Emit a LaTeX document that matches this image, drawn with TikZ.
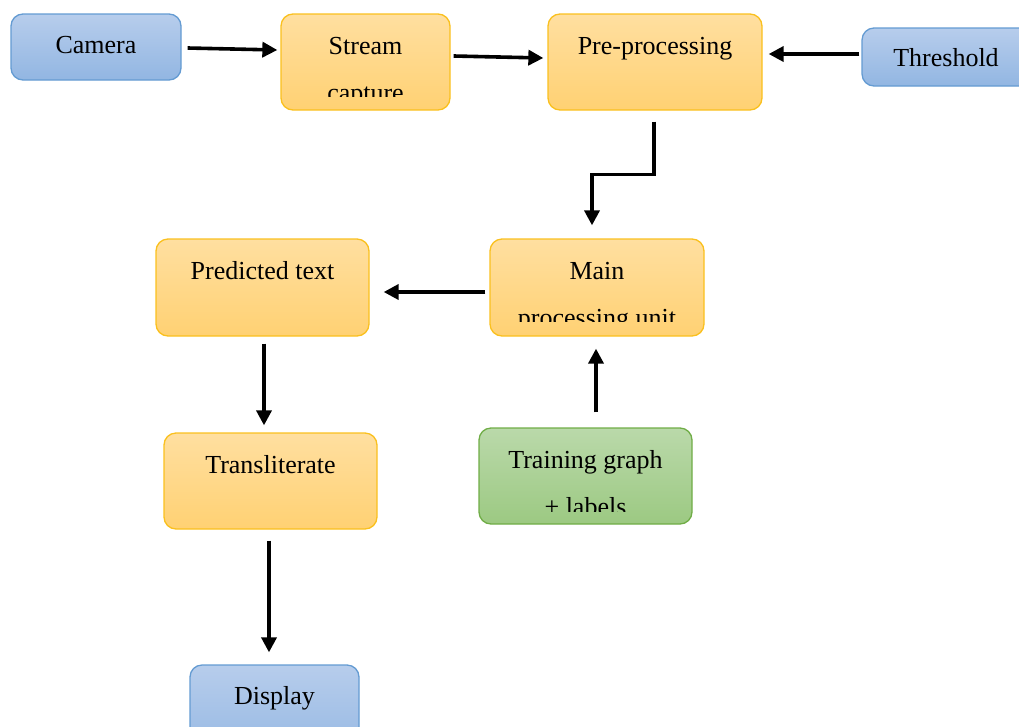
\documentclass[tikz,border=0pt]{standalone}
\usepackage{fontspec}
\setmainfont{Liberation Serif}
\usetikzlibrary{calc,arrows.meta}

\definecolor{blueTop}{RGB}{183,205,236}
\definecolor{blueBot}{RGB}{146,182,226}
\definecolor{blueLine}{RGB}{100,155,210}
\definecolor{orgTop}{RGB}{255,223,160}
\definecolor{orgBot}{RGB}{255,209,115}
\definecolor{orgLine}{RGB}{250,192,30}
\definecolor{grnTop}{RGB}{186,217,170}
\definecolor{grnBot}{RGB}{156,201,130}
\definecolor{grnLine}{RGB}{112,173,71}

\tikzset{
  box/.style={rectangle, rounded corners=12pt, line width=1.3pt, inner sep=0pt},
  bluebox/.style={box, draw=blueLine, top color=blueTop, bottom color=blueBot},
  orgbox/.style={box, draw=orgLine, top color=orgTop, bottom color=orgBot},
  grnbox/.style={box, draw=grnLine, top color=grnTop, bottom color=grnBot},
  lbl/.style={anchor=base, inner sep=0pt, font=\fontsize{26}{30}\selectfont},
  arr/.style={line width=3.6pt, -{Triangle[length=15pt,width=15pt]}},
}

\begin{document}
\begin{tikzpicture}[x=1pt,y=-1pt]
\useasboundingbox (0,0) rectangle (1019,726);
\clip (0,0) rectangle (1019,726);

% boxes
\node[bluebox, minimum width=170pt, minimum height=66pt] (camera) at (96,47) {};
\node[orgbox, minimum width=169pt, minimum height=96pt] (stream) at (365.5,62) {};
\node[orgbox, minimum width=214pt, minimum height=96pt] (pre) at (655,62) {};
\node[bluebox, minimum width=200pt, minimum height=58pt] (thresh) at (962,57) {};
\node[orgbox, minimum width=214pt, minimum height=97pt] (main) at (597,287.5) {};
\node[orgbox, minimum width=213pt, minimum height=97pt] (pred) at (262.5,287.5) {};
\node[orgbox, minimum width=213pt, minimum height=96pt] (trans) at (270.5,481) {};
\node[grnbox, minimum width=213pt, minimum height=96pt] (train) at (585.5,476) {};
\node[bluebox, minimum width=169pt, minimum height=100pt] (disp) at (274.5,715) {};

% labels
\node[lbl] (camera-t) at (96,53.5) {Camera};
\node[lbl] (pre-t) at (655,54.5) {Pre-processing};
\node[lbl] (thresh-t) at (946,66) {Threshold};
\node[lbl] (pred-t) at (262.5,279.5) {Predicted text};
\node[lbl] (trans-t) at (270.5,473.5) {Transliterate};
\node[lbl] (disp-t) at (274.5,704) {Display};

% two-line labels whose second line is cut off by the text frame
\begin{scope}
  \clip (282,15) rectangle (449,96.5);
  \node[lbl] (stream-t1) at (365.5,54.5) {Stream};
  \node[lbl] (stream-t2) at (365.5,101.5) {capture};
\end{scope}
\begin{scope}
  \clip (491,240) rectangle (703,321.5);
  \node[lbl] (main-t1) at (597,279.5) {Main};
  \node[lbl] (main-t2) at (597,326.5) {processing unit};
\end{scope}
\begin{scope}
  \clip (480,429) rectangle (691,511.5);
  \node[lbl] (train-t1) at (585.5,468.5) {Training graph};
  \node[lbl] (train-t2) at (585.5,515.5) {+ labels};
\end{scope}

% connectors
\draw[arr] ($(camera.east)+(6,1)$) -- ($(stream.west)+(-3,-12)$);
\draw[arr] ($(stream.east)+(3,-6)$) -- ($(pre.west)+(-4,-4)$);
\draw[arr] ($(thresh.west)+(-2,-3)$) -- ($(pre.east)+(6,-8)$);
\draw[arr] ($(pre.south)+(-1,11)$) -- ++(0,53) -| ($(main.north)+(-5,-13)$);
\draw[arr] ($(main.west)+(-4,4.5)$) -- ($(pred.east)+(14,4.5)$);
\draw[arr] ($(train.north)+(10.5,-15)$) -- ($(main.south)+(-1,12)$);
\draw[arr] ($(pred.south)+(1.5,7)$) -- ($(trans.north)+(-6.5,-7)$);
\draw[arr] ($(trans.south)+(-1.5,11)$) -- ($(disp.north)+(-5.5,-12)$);
\end{tikzpicture}
\end{document}
